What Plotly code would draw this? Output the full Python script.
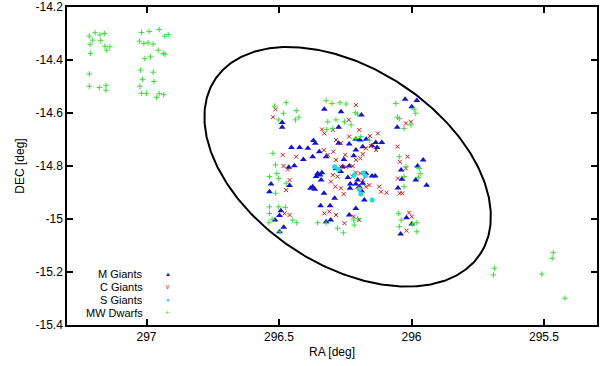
import numpy as np
import plotly.graph_objects as go

# M Giants
m_ra = [296.024, 295.980, 295.999, 296.329, 296.266, 296.189, 296.488, 296.488, 296.054, 296.275,
        296.210, 296.194, 296.171, 296.135, 296.112, 296.130, 296.149, 296.184, 296.370, 296.363,
        296.391, 296.422, 296.453, 296.348, 296.275, 296.235, 296.210, 296.322, 296.373, 296.408,
        296.442, 296.463, 296.255, 296.218, 296.260, 296.235, 296.285, 296.267, 296.354, 296.345,
        296.360, 296.338, 296.341, 296.373, 296.381, 296.365, 296.240, 296.231, 296.210, 296.203,
        296.197, 296.184, 296.172, 296.149, 296.137, 296.188, 296.178, 295.977, 295.956, 295.984,
        295.943, 296.039, 296.036, 296.051, 296.530, 296.536, 296.460, 296.330, 296.290, 296.232,
        296.343, 296.307, 296.235, 296.210, 296.493, 296.498, 296.515, 296.482, 296.498, 296.305,
        296.322, 296.019, 295.999, 296.041]
m_dec = [-14.548, -14.553, -14.576, -14.586, -14.595, -14.608, -14.636, -14.654, -14.654, -14.654,
         -14.699, -14.702, -14.699, -14.711, -14.711, -14.730, -14.724, -14.727, -14.704, -14.714,
         -14.733, -14.730, -14.730, -14.746, -14.714, -14.717, -14.740, -14.765, -14.765, -14.775,
         -14.799, -14.805, -14.775, -14.761, -14.803, -14.800, -14.809, -14.821, -14.828, -14.834,
         -14.840, -14.825, -14.853, -14.878, -14.884, -14.888, -14.843, -14.868, -14.868, -14.853,
         -14.878, -14.865, -14.828, -14.838, -14.838, -14.894, -14.928, -14.800, -14.777, -14.853,
         -14.873, -14.815, -14.850, -14.883, -14.868, -14.897, -14.874, -14.903, -14.922, -14.884,
         -14.950, -14.950, -14.985, -14.960, -14.969, -14.987, -15.004, -15.031, -15.048, -15.004,
         -15.010, -14.995, -15.019, -15.057]

# C Giants
c_ra = [296.513, 296.523, 296.210, 296.237, 296.197, 296.157, 296.127, 296.002, 296.021, 296.329,
        296.297, 296.053, 296.044, 296.015, 296.021, 296.483, 296.466, 296.486, 296.435, 296.331,
        296.316, 296.295, 296.266, 296.250, 296.285, 296.266, 296.247, 296.222, 296.210, 296.193,
        296.184, 296.172, 296.153, 296.297, 296.279, 296.304, 296.287, 296.266, 296.256, 296.222,
        296.210, 296.194, 296.184, 296.172, 296.159, 296.203, 296.191, 296.122, 296.115, 296.094,
        296.044, 296.034, 296.051, 296.460, 296.473, 296.329, 296.310, 296.285, 296.253, 296.218,
        296.197, 296.009, 295.999, 296.019, 296.479, 296.460, 296.134, 296.235, 296.338, 296.285]
c_dec = [-14.586, -14.616, -14.570, -14.626, -14.664, -14.687, -14.677, -14.633, -14.639, -14.677,
         -14.664, -14.727, -14.784, -14.765, -14.809, -14.800, -14.813, -14.758, -14.765, -14.740,
         -14.758, -14.746, -14.714, -14.758, -14.777, -14.803, -14.803, -14.800, -14.777, -14.771,
         -14.755, -14.733, -14.724, -14.834, -14.840, -14.859, -14.878, -14.884, -14.906, -14.840,
         -14.825, -14.828, -14.853, -14.878, -14.872, -14.878, -14.903, -14.878, -14.897, -14.901,
         -14.903, -14.903, -14.847, -14.853, -14.891, -14.979, -14.972, -14.985, -15.016, -14.991,
         -15.004, -14.976, -14.991, -15.044, -14.979, -14.985, -14.740, -14.689, -14.662, -14.702]

# S Giants
s_ra = [296.290, 296.277, 296.217, 296.182, 296.174, 296.197, 296.191, 296.148]
s_dec = [-14.803, -14.813, -14.834, -14.825, -14.838, -14.888, -14.906, -14.928]

# MW Dwarfs
d_ra = [297.216, 297.194, 297.176, 297.159, 297.203, 297.173, 297.213, 297.157, 297.138, 297.150,
        297.211, 297.216, 297.216, 297.178, 297.153, 297.153,
        297.019, 296.990, 296.952, 296.931, 296.918, 297.027, 297.010, 296.994, 296.975, 296.956,
        296.937, 296.930, 297.006, 296.985, 297.022, 296.975, 297.015, 296.972, 297.025, 297.019,
        297.000, 296.962, 296.952, 296.935,
        296.517, 296.473, 296.483, 296.435, 296.425, 296.438, 296.501, 296.322, 296.300, 296.270,
        296.247, 296.212, 296.204, 296.316, 296.285, 296.253, 296.320, 296.297, 296.228, 296.210,
        296.159, 296.191, 296.059, 296.053, 296.046, 295.984, 295.990, 296.028, 296.002, 296.523,
        296.513, 296.508, 296.536, 296.501, 296.513, 296.473, 296.021, 295.971, 296.028, 295.967,
        295.974, 296.028, 296.046, 296.354, 296.322, 296.279, 296.257, 296.218, 296.203, 296.216,
        296.536, 296.501, 296.476, 296.536, 296.526, 296.538, 296.496, 296.448, 296.433, 296.049,
        296.039, 295.996, 295.980, 295.980, 296.046,
        295.687, 295.691, 295.508, 295.469, 295.465, 295.421]
d_dec = [-14.310, -14.297, -14.305, -14.300, -14.325, -14.327, -14.341, -14.348, -14.350, -14.363,
         -14.375, -14.453, -14.499, -14.504, -14.496, -14.514,
         -14.296, -14.292, -14.285, -14.310, -14.304, -14.329, -14.338, -14.335, -14.340, -14.363,
         -14.375, -14.378, -14.395, -14.388, -14.438, -14.446, -14.473, -14.481, -14.499, -14.526,
         -14.526, -14.541, -14.526, -14.531,
         -14.574, -14.561, -14.601, -14.591, -14.616, -14.626, -14.626, -14.553, -14.564, -14.561,
         -14.566, -14.599, -14.604, -14.633, -14.626, -14.633, -14.662, -14.658, -14.645, -14.696,
         -14.702, -14.689, -14.564, -14.616, -14.621, -14.601, -14.586, -14.658, -14.645, -14.752,
         -14.796, -14.828, -14.840, -14.847, -14.903, -14.865, -14.803, -14.809, -14.840, -14.828,
         -14.843, -14.878, -14.765, -15.014, -15.016, -15.035, -15.052, -15.004, -14.998, -15.023,
         -14.954, -14.954, -14.956, -14.979, -15.001, -15.014, -15.048, -15.004, -15.014, -14.979,
         -15.004, -15.019, -15.014, -15.048, -15.029,
         -15.186, -15.211, -15.208, -15.148, -15.127, -15.299]

# galaxy ellipse (centre, semi-axes in deg, position angle)
ell_ra0, ell_dec0 = 296.241, -14.803
ell_a, ell_b, ell_theta = 0.599, 0.371, 33.3

x_ticks = [297, 296.5, 296, 295.5]
x_ticktext = ["297", "296.5", "296", "295.5"]
y_ticks = [-14.2, -14.4, -14.6, -14.8, -15.0, -15.2, -15.4]
y_ticktext = ["-14.2", "-14.4", "-14.6", "-14.8", "-15", "-15.2", "-15.4"]

FONT = "Liberation Sans, Arial, sans-serif"
BLUE, RED, CYAN, GREEN = "#1414c8", "#d01818", "#22dde0", "#3cdc3c"

t = np.linspace(0, 2 * np.pi, 400)
th = np.radians(ell_theta)
u, v = ell_a * np.cos(t), ell_b * np.sin(t)
ell_ra = ell_ra0 - (u * np.cos(th) - v * np.sin(th))
ell_dec = ell_dec0 - (u * np.sin(th) + v * np.cos(th))

fig = go.Figure()
fig.add_trace(go.Scatter(x=ell_ra, y=ell_dec, mode="lines",
                         line=dict(color="black", width=2), hoverinfo="skip"))
fig.add_trace(go.Scatter(x=m_ra, y=m_dec, mode="markers", name="M Giants",
                         marker=dict(symbol="triangle-up", size=6, color=BLUE)))
fig.add_trace(go.Scatter(x=c_ra, y=c_dec, mode="markers", name="C Giants",
                         marker=dict(symbol="x-thin-open", size=4, color=RED,
                                     line=dict(color=RED, width=1))))
fig.add_trace(go.Scatter(x=s_ra, y=s_dec, mode="markers", name="S Giants",
                         marker=dict(symbol="circle", size=5, color=CYAN)))
fig.add_trace(go.Scatter(x=d_ra, y=d_dec, mode="markers", name="MW Dwarfs",
                         marker=dict(symbol="cross-thin-open", size=4, color=GREEN,
                                     line=dict(color=GREEN, width=1))))

# gnuplot-style key: label right-aligned, sample to its right
key_rows = [("M Giants", "▲", BLUE, 6), ("C Giants", "v", RED, 7),
            ("S Giants", "●", CYAN, 6), ("MW Dwarfs", "+", GREEN, 8)]
for i, (label, glyph, col, gsize) in enumerate(key_rows):
    yk = 0.160 - i * 0.0405
    fig.add_annotation(x=0.147, y=yk, xref="paper", yref="paper", text=label,
                       showarrow=False, xanchor="right", yanchor="middle",
                       font=dict(family=FONT, size=11, color="black"))
    fig.add_annotation(x=0.19, y=yk, xref="paper", yref="paper", text=glyph,
                       showarrow=False, xanchor="center", yanchor="middle",
                       font=dict(family=FONT, size=gsize, color=col))

axis_common = dict(showgrid=False, zeroline=False, showline=True, linecolor="black",
                   linewidth=1.5, mirror="ticks", ticks="inside", ticklen=6,
                   tickcolor="black", tickwidth=1.5, automargin=False,
                   tickfont=dict(family=FONT, size=12, color="black"))
fig.update_xaxes(range=[297.3, 295.3], tickvals=x_ticks, ticktext=x_ticktext,
                 title=dict(text="RA [deg]", font=dict(family=FONT, size=12, color="black"),
                            standoff=4),
                 **axis_common)
fig.update_yaxes(range=[-15.4, -14.2], tickvals=y_ticks, ticktext=y_ticktext,
                 title=dict(text="DEC [deg]", font=dict(family=FONT, size=12, color="black"),
                            standoff=8),
                 **axis_common)
fig.update_layout(width=600, height=366, showlegend=False,
                  margin=dict(l=67, r=3, t=7, b=41),
                  plot_bgcolor="white", paper_bgcolor="white")
# page body margin would otherwise shift the 600x366 figure by 8px
fig.write_html("out.html", config={"displayModeBar": False},
               post_script="document.body.style.margin='0px';")
